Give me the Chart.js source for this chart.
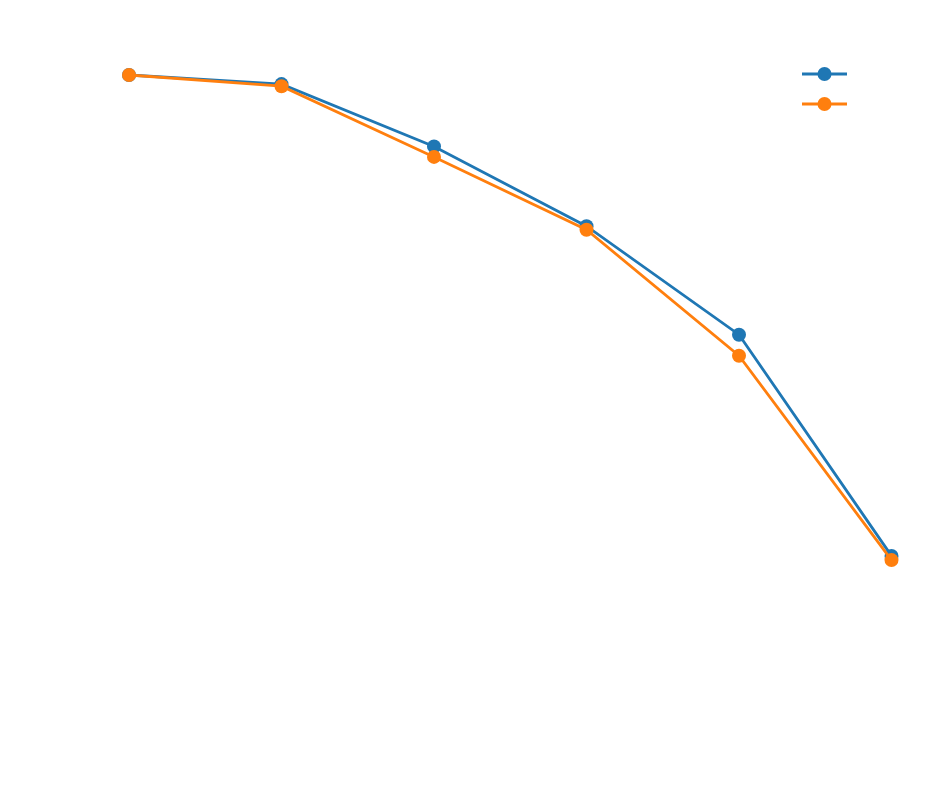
<!DOCTYPE html>
<html>
<head>
<meta charset="utf-8">
<script src="https://cdn.jsdelivr.net/npm/chart.js@4"></script>
<style>
  html, body { margin: 0; padding: 0; background: #fff; }
  #wrap { width: 943px; height: 806px; }
</style>
</head>
<body>
<div id="wrap"><canvas id="lineChart"></canvas></div>
<script>
// values
var steps = ["1", "2", "3", "4", "5", "6"];
var seriesA = [0.950, 0.937, 0.848, 0.734, 0.579, 0.263];
var seriesB = [0.950, 0.934, 0.833, 0.729, 0.549, 0.257];
var seriesNames = ["A", "B"];
var colors = ["#1f77b4", "#ff7f0e"];

// legend handles: short line with a round marker, no text
var handleLegend = {
  id: 'handleLegend',
  afterDraw: function(chart) {
    var c = chart.ctx;
    chart.data.datasets.forEach(function(ds, i) {
      var y = 74 + i * 30;
      c.save();
      c.strokeStyle = ds.borderColor;
      c.lineWidth = 2.8;
      c.beginPath();
      c.moveTo(802, y);
      c.lineTo(847, y);
      c.stroke();
      c.fillStyle = ds.borderColor;
      c.beginPath();
      c.arc(824.5, y, 7, 0, Math.PI * 2);
      c.fill();
      c.restore();
    });
  }
};

var ctxL = document.getElementById("lineChart").getContext('2d');
var myLineChart = new Chart(ctxL, {
  type: 'line',
  data: {
    labels: steps,
    datasets: [{
      label: seriesNames[0],
      data: seriesA,
      borderColor: colors[0],
      backgroundColor: colors[0],
      borderWidth: 2.8,
      pointRadius: 7,
      pointHoverRadius: 7,
      pointBorderWidth: 0,
      tension: 0,
      clip: false,
      order: 1
    },
    {
      label: seriesNames[1],
      data: seriesB,
      borderColor: colors[1],
      backgroundColor: colors[1],
      borderWidth: 2.8,
      pointRadius: 7,
      pointHoverRadius: 7,
      pointBorderWidth: 0,
      tension: 0,
      clip: false,
      order: 0
    }]
  },
  options: {
    responsive: true,
    maintainAspectRatio: false,
    animation: false,
    layout: { padding: { left: 129, right: 51.5, top: 40, bottom: 66 } },
    scales: {
      x: { display: false, offset: false },
      y: { display: false, min: 0, max: 1 }
    },
    plugins: {
      legend: { display: false },
      tooltip: { enabled: false }
    }
  },
  plugins: [handleLegend]
});
</script>
</body>
</html>
